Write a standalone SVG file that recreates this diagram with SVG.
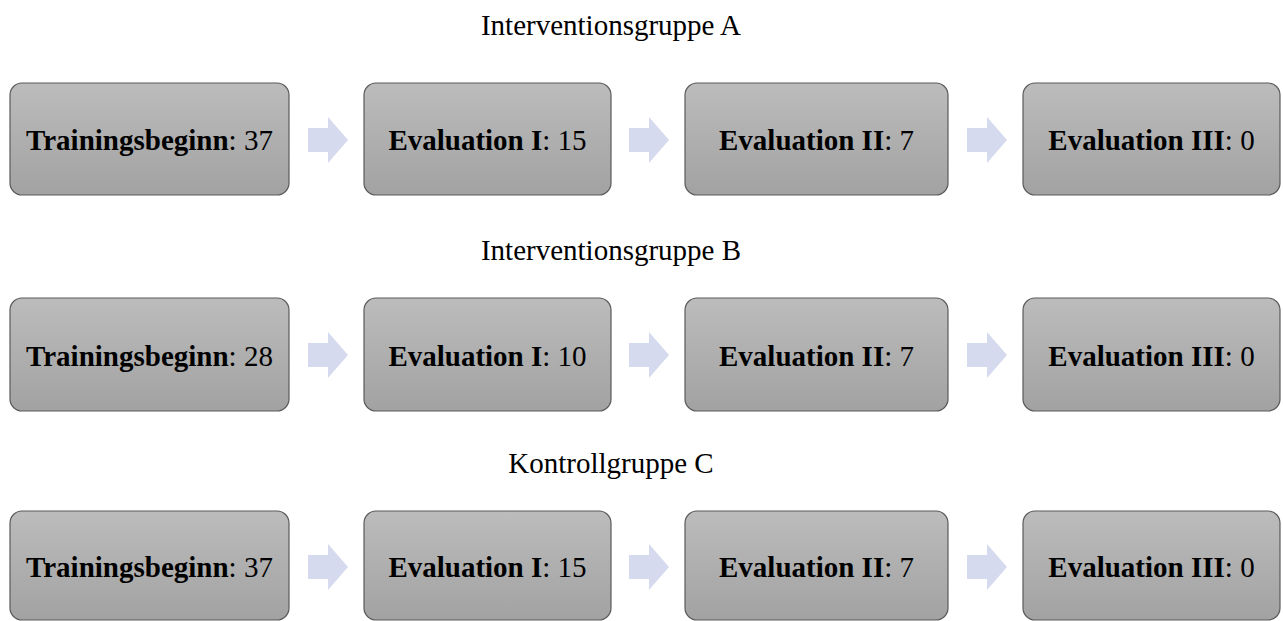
<svg xmlns="http://www.w3.org/2000/svg" width="1283" height="621" viewBox="0 0 1283 621">
<style>
.title{font-family:"Liberation Serif","Times New Roman",serif;font-size:29px;fill:#000;text-anchor:middle}
.lbl{font-family:"Liberation Serif","Times New Roman",serif;font-size:29px;fill:#000;text-anchor:middle}
.lbl .b{font-weight:bold}
.box{fill:url(#g);stroke:#5a5a5a;stroke-width:1.2}
.arr{fill:#d5daee}
</style>
<defs>
<linearGradient id="g" x1="0" y1="0" x2="0" y2="1">
<stop offset="0" stop-color="#bcbcbc"/>
<stop offset="1" stop-color="#a2a2a2"/>
</linearGradient>
<path id="a" d="M0,-12 H20 V-23 L40,0 L20,23 V12 H0 Z"/>
</defs>
<rect width="1283" height="621" fill="#fff"/>
<text class="title" x="611" y="35">Interventionsgruppe A</text>
<text class="title" x="611" y="260">Interventionsgruppe B</text>
<text class="title" x="611" y="473">Kontrollgruppe C</text>
<g id="connectors">
<use href="#a" class="arr" x="308" y="140"/>
<use href="#a" class="arr" x="629" y="140"/>
<use href="#a" class="arr" x="967" y="140"/>
<use href="#a" class="arr" x="308" y="355"/>
<use href="#a" class="arr" x="629" y="355"/>
<use href="#a" class="arr" x="967" y="355"/>
<use href="#a" class="arr" x="308" y="567"/>
<use href="#a" class="arr" x="629" y="567"/>
<use href="#a" class="arr" x="967" y="567"/>
</g>
<g id="a1"><rect class="box" x="10" y="83" width="279" height="112" rx="12"/><text class="lbl" x="149.5" y="150"><tspan class="b">Trainingsbeginn</tspan>: 37</text></g>
<g id="a2"><rect class="box" x="364" y="83" width="247" height="112" rx="12"/><text class="lbl" x="487.5" y="150"><tspan class="b">Evaluation I</tspan>: 15</text></g>
<g id="a3"><rect class="box" x="685" y="83" width="263" height="112" rx="12"/><text class="lbl" x="816.5" y="150"><tspan class="b">Evaluation II</tspan>: 7</text></g>
<g id="a4"><rect class="box" x="1023" y="83" width="257" height="112" rx="12"/><text class="lbl" x="1151.5" y="150"><tspan class="b">Evaluation III</tspan>: 0</text></g>
<g id="b1"><rect class="box" x="10" y="298" width="279" height="113" rx="12"/><text class="lbl" x="149.5" y="366"><tspan class="b">Trainingsbeginn</tspan>: 28</text></g>
<g id="b2"><rect class="box" x="364" y="298" width="247" height="113" rx="12"/><text class="lbl" x="487.5" y="366"><tspan class="b">Evaluation I</tspan>: 10</text></g>
<g id="b3"><rect class="box" x="685" y="298" width="263" height="113" rx="12"/><text class="lbl" x="816.5" y="366"><tspan class="b">Evaluation II</tspan>: 7</text></g>
<g id="b4"><rect class="box" x="1023" y="298" width="257" height="113" rx="12"/><text class="lbl" x="1151.5" y="366"><tspan class="b">Evaluation III</tspan>: 0</text></g>
<g id="c1"><rect class="box" x="10" y="511" width="279" height="109" rx="12"/><text class="lbl" x="149.5" y="577"><tspan class="b">Trainingsbeginn</tspan>: 37</text></g>
<g id="c2"><rect class="box" x="364" y="511" width="247" height="109" rx="12"/><text class="lbl" x="487.5" y="577"><tspan class="b">Evaluation I</tspan>: 15</text></g>
<g id="c3"><rect class="box" x="685" y="511" width="263" height="109" rx="12"/><text class="lbl" x="816.5" y="577"><tspan class="b">Evaluation II</tspan>: 7</text></g>
<g id="c4"><rect class="box" x="1023" y="511" width="257" height="109" rx="12"/><text class="lbl" x="1151.5" y="577"><tspan class="b">Evaluation III</tspan>: 0</text></g>
</svg>
